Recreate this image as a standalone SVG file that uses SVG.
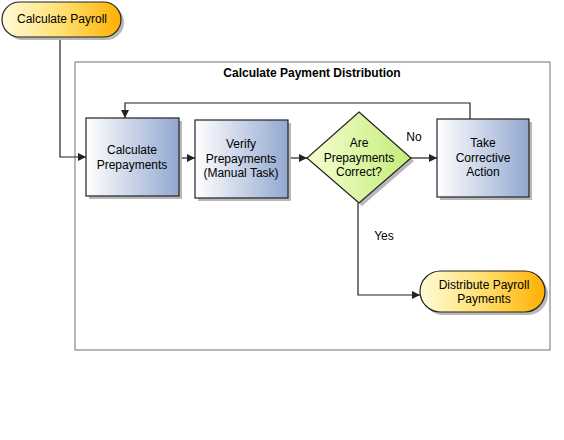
<svg xmlns="http://www.w3.org/2000/svg" width="564" height="440" viewBox="0 0 564 440">
<style>
text{font-family:"Liberation Sans",Arial,sans-serif;font-size:12px;fill:#000;text-anchor:middle}
.t{font-weight:bold}
.node{stroke:#222;stroke-width:1.2}
.sh{fill:#b8b8b8}
.ln{fill:none;stroke:#222;stroke-width:1.2}
</style>
<defs>
<linearGradient id="gy" x1="0" y1="0" x2="1" y2="0">
<stop offset="0" stop-color="#fffbd8"/><stop offset="0.5" stop-color="#ffe070"/><stop offset="1" stop-color="#ffb000"/>
</linearGradient>
<linearGradient id="gb" x1="0" y1="0" x2="1" y2="0">
<stop offset="0" stop-color="#ffffff"/><stop offset="1" stop-color="#93a8d0"/>
</linearGradient>
<linearGradient id="gg" x1="0" y1="0" x2="1" y2="0">
<stop offset="0" stop-color="#f4ffd0"/><stop offset="1" stop-color="#c4ec7a"/>
</linearGradient>
<marker id="ar" viewBox="0 0 10 10" refX="10" refY="5" markerWidth="8" markerHeight="8" markerUnits="userSpaceOnUse" orient="auto">
<path d="M0,0L10,5L0,10z" fill="#222"/>
</marker>
</defs>
<rect x="75" y="62" width="475" height="288" fill="none" stroke="#888" stroke-width="1.2"/>
<text class="t" x="312" y="77">Calculate Payment Distribution</text>
<g id="connectors">
<path class="ln" d="M60,37V157H86" marker-end="url(#ar)"/>
<path class="ln" d="M179,158H195" marker-end="url(#ar)"/>
<path class="ln" d="M288,158H307" marker-end="url(#ar)"/>
<path class="ln" d="M411,158H437" marker-end="url(#ar)"/>
<path class="ln" d="M470,119V103H125V118" marker-end="url(#ar)"/>
<path class="ln" d="M358,203V295H420" marker-end="url(#ar)"/>
<text x="414" y="141">No</text>
<text x="384" y="240">Yes</text>
</g>
<g id="calculate-payroll">
<rect class="sh" x="5" y="5" width="119" height="35" rx="17.5"/>
<rect class="node" x="2" y="2" width="119" height="35" rx="17.5" fill="url(#gy)"/>
<text x="62" y="23">Calculate Payroll</text>
</g>
<g id="calculate-prepayments">
<rect class="sh" x="89" y="121" width="93" height="78"/>
<rect class="node" x="86" y="118" width="93" height="78" fill="url(#gb)"/>
<text x="132" y="154">Calculate</text>
<text x="132" y="169">Prepayments</text>
</g>
<g id="verify-prepayments">
<rect class="sh" x="198" y="123" width="93" height="78"/>
<rect class="node" x="195" y="120" width="93" height="78" fill="url(#gb)"/>
<text x="241" y="148">Verify</text>
<text x="241" y="163">Prepayments</text>
<text x="241" y="177">(Manual Task)</text>
</g>
<g id="are-prepayments-correct">
<path class="sh" d="M362,115L414,161L362,206L310,161z"/>
<path class="node" d="M359,112L411,158L359,203L307,158z" fill="url(#gg)"/>
<text x="359" y="147">Are</text>
<text x="359" y="162">Prepayments</text>
<text x="359" y="176">Correct?</text>
</g>
<g id="take-corrective-action">
<rect class="sh" x="440" y="122" width="92" height="78"/>
<rect class="node" x="437" y="119" width="92" height="78" fill="url(#gb)"/>
<text x="483" y="147">Take</text>
<text x="483" y="162">Corrective</text>
<text x="483" y="176">Action</text>
</g>
<g id="distribute-payroll-payments">
<rect class="sh" x="423" y="274" width="125" height="41" rx="20.5"/>
<rect class="node" x="420" y="271" width="125" height="41" rx="20.5" fill="url(#gy)"/>
<text x="484" y="289">Distribute Payroll</text>
<text x="484" y="303">Payments</text>
</g>
</svg>
